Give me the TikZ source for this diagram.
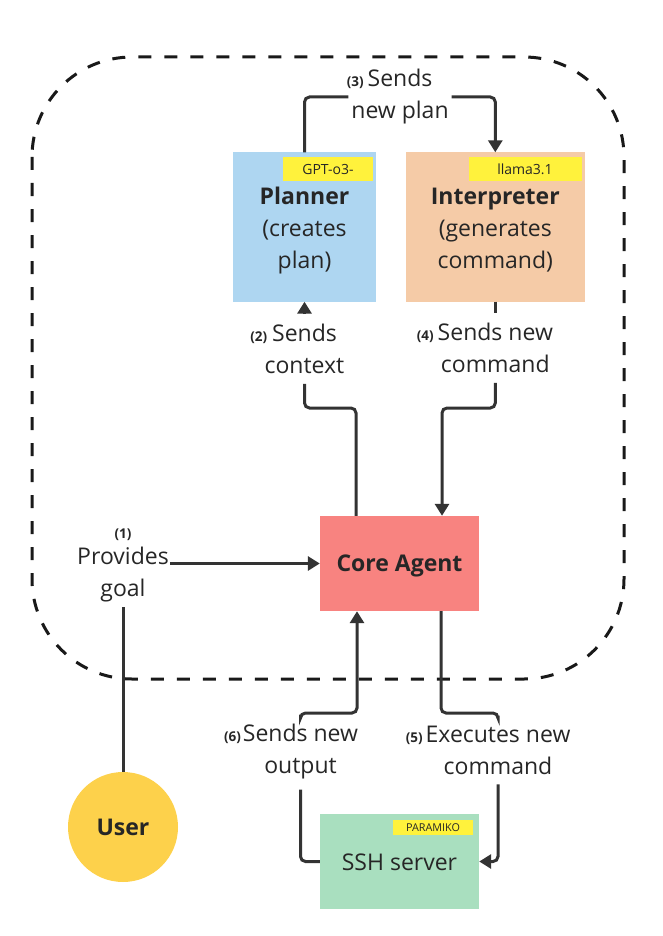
\documentclass[tikz,border=0pt]{standalone}
\usepackage{fontspec}
\setmainfont{Open Sans}
\usetikzlibrary{arrows.meta}
\definecolor{plannerblue}{HTML}{AED6F1}
\definecolor{interporange}{HTML}{F5CBA7}
\definecolor{corered}{HTML}{F88380}
\definecolor{sshgreen}{HTML}{A9DFBF}
\definecolor{useryellow}{HTML}{FDD14B}
\definecolor{tagyellow}{HTML}{FFF23C}
\definecolor{linegray}{HTML}{333333}
\definecolor{txtgray}{HTML}{262626}
\newcommand\stepno[1]{{\fontsize{13.5}{16}\selectfont\bfseries #1}}
\begin{document}
\begin{tikzpicture}[x=1pt,y=-1pt,
  mainbox/.style={draw=none,inner sep=0pt,align=center,text=txtgray,
    font=\fontsize{23}{32}\selectfont},
  boxtxt/.style={inner sep=0pt,align=center,text=txtgray,
    font=\fontsize{23}{32}\selectfont},
  lbl/.style={inner sep=0pt,outer xsep=3pt,outer ysep=10pt,align=center,
    text=txtgray,font=\fontsize{23}{32}\selectfont},
  tag/.style={fill=tagyellow,inner sep=0pt,text=txtgray,
    font=\fontsize{14}{16}\selectfont},
  conn/.style={draw=linegray,line width=3pt,rounded corners=5pt},
  arr/.style={-{Triangle[length=12pt,width=14pt]}},
  border/.style={draw=black!90,line width=3pt,dash pattern=on 13pt off 13pt,rounded corners=100pt}
]
\useasboundingbox (0,0) rectangle (662,936);

% dashed enclosure
\draw[border] (32,57) rectangle (624,679);

% boxes
\node[mainbox,fill=plannerblue,minimum width=143pt,minimum height=149pt,
  label={[boxtxt,yshift=-3.5pt]center:{\textbf{Planner}\\(creates\\plan)}}] (planner) at (304.5,227) {};
\node[mainbox,fill=interporange,minimum width=179pt,minimum height=149pt,
  label={[boxtxt,yshift=-3.5pt]center:{\textbf{Interpreter}\\(generates\\command)}}] (interp) at (495.3,227) {};
\node[mainbox,fill=corered,minimum width=159pt,minimum height=95pt,
  label={[boxtxt,yshift=-2.5pt]center:{\textbf{Core Agent}}}] (core) at (399.5,563.5) {};
\node[mainbox,fill=sshgreen,minimum width=159pt,minimum height=95pt,
  label={[boxtxt,yshift=-1pt]center:{SSH server}}] (ssh) at (399.5,861.5) {};
\node[mainbox,fill=useryellow,circle,minimum size=110pt] (user) at (123,827)
  {\textbf{User}};

% tags
\node[tag,minimum width=90pt,minimum height=24pt] (gpttag) at (328,169) {GPT-o3-};
\node[tag,minimum width=113pt,minimum height=24pt] (llamatag) at (525,169) {llama3.1};
\node[tag,minimum width=80pt,minimum height=15pt,font=\fontsize{10.8}{12}\selectfont] (paratag) at (433,827.5) {PARAMIKO};

% labels
\node[lbl,outer ysep=5pt,outer xsep=1pt] (lbl1) at (123,565.5) {\stepno{(1)}\\[-6pt]Provides\\goal};
\node[lbl] (lbl2) at (304.5,349) {\llap{\stepno{(2)}\hspace{5pt}}Sends\\context};
\node[lbl] (lbl3) at (400,97) {\llap{\stepno{(3)}\hspace{4pt}}Sends\\new plan};
\node[lbl] (lbl4) at (495.3,348) {\llap{\stepno{(4)}\hspace{4pt}}Sends new\\command};
\node[lbl] (lbl5) at (498,750) {\llap{\stepno{(5)}\hspace{3pt}}Executes new\\command};
\node[lbl] (lbl6) at (300.5,752) {\llap{\stepno{(6)}\hspace{2pt}}Sends new\\output};

% attachment points
\coordinate (c2) at ([xshift=-43.5pt]core.north);
\coordinate (c4) at ([xshift=42.5pt]core.north);
\coordinate (c5) at ([xshift=41.5pt]core.south);
\coordinate (c6) at ([xshift=-42.5pt]core.south);
\coordinate (yA) at (0,408);
\coordinate (yB) at (0,713);

% connectors
\draw[conn] (user.north) -- (lbl1.south);
\draw[conn,arr] (lbl1.east |- core.west) -- (core.west);

\draw[conn] (c2) -- (c2 |- yA) -| (lbl2.south);
\draw[conn,arr] (lbl2.north) -- (planner.south);

\draw[conn] (planner.north) |- (lbl3.west);
\draw[conn,arr] (lbl3.east) -| (interp.north);

\draw[conn] (interp.south) -- (lbl4.north);
\draw[conn,arr] (lbl4.south) -- (lbl4.south |- yA) -| (c4);

\draw[conn] (c5) -- (c5 |- yB) -| (lbl5.north);
\draw[conn,arr] (lbl5.south) |- (ssh.east);

\draw[conn] (ssh.west) -| (lbl6.south);
\draw[conn,arr] (lbl6.north) |- (c6 |- yB) -- (c6);
\end{tikzpicture}
\end{document}
